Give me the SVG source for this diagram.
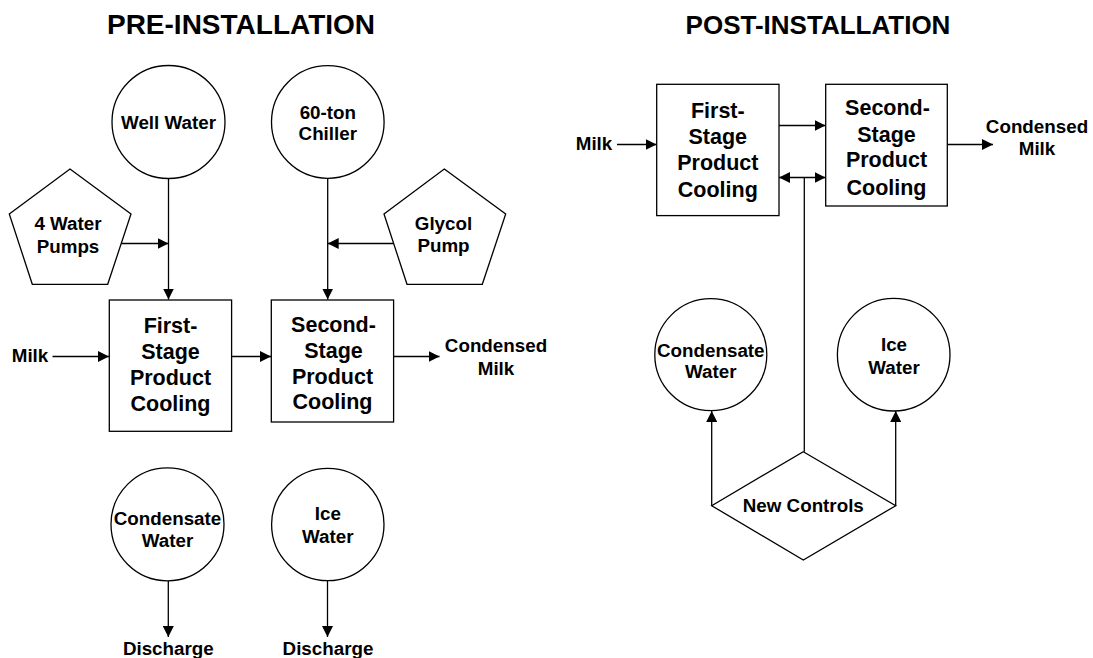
<svg xmlns="http://www.w3.org/2000/svg" width="1093" height="658" viewBox="0 0 1093 658">
<defs>
<style>
.s{fill:#fff;stroke:#000;stroke-width:1.3}
.c{fill:none;stroke:#000;stroke-width:1.3}
text{font-family:"Liberation Sans",Arial,sans-serif;font-weight:bold;fill:#000;text-anchor:middle}
.l{font-size:18.8px}
.b{font-size:21.5px}
.t{font-size:28px}
.t2{font-size:26px}
</style>
<marker id="ah" markerUnits="userSpaceOnUse" markerWidth="12" markerHeight="11" refX="11" refY="5.5" orient="auto-start-reverse">
<path d="M0,0 L11,5.5 L0,11 z" fill="#000"/>
</marker>
</defs>
<rect width="1093" height="658" fill="#fff"/>
<text class="t" x="241" y="33.5">PRE-INSTALLATION</text>
<text class="t2" x="818" y="33.5">POST-INSTALLATION</text>

<g id="connectors">
<line class="c" x1="168.5" y1="178.5" x2="168.5" y2="299.5" marker-end="url(#ah)"/>
<line class="c" x1="121.5" y1="243.5" x2="168.5" y2="243.5" marker-end="url(#ah)"/>
<line class="c" x1="327.7" y1="178.5" x2="327.7" y2="299.5" marker-end="url(#ah)"/>
<line class="c" x1="393.5" y1="243.5" x2="327.7" y2="243.5" marker-end="url(#ah)"/>
<line class="c" x1="52.5" y1="356.5" x2="109" y2="356.5" marker-end="url(#ah)"/>
<line class="c" x1="231.5" y1="356.5" x2="271" y2="356.5" marker-end="url(#ah)"/>
<line class="c" x1="393.5" y1="356.5" x2="439.5" y2="356.5" marker-end="url(#ah)"/>
<line class="c" x1="168.3" y1="581" x2="168.3" y2="637" marker-end="url(#ah)"/>
<line class="c" x1="327.5" y1="581" x2="327.5" y2="637" marker-end="url(#ah)"/>
<line class="c" x1="617" y1="144.5" x2="656.5" y2="144.5" marker-end="url(#ah)"/>
<line class="c" x1="779" y1="125.5" x2="825.5" y2="125.5" marker-end="url(#ah)"/>
<line class="c" x1="779" y1="177.5" x2="825.5" y2="177.5" marker-start="url(#ah)" marker-end="url(#ah)"/>
<line class="c" x1="804.3" y1="177.5" x2="804.3" y2="451.7"/>
<line class="c" x1="947.3" y1="144.5" x2="993" y2="144.5" marker-end="url(#ah)"/>
<line class="c" x1="711.7" y1="505.7" x2="711.7" y2="411" marker-end="url(#ah)"/>
<line class="c" x1="895.7" y1="505.7" x2="895.7" y2="411" marker-end="url(#ah)"/>
</g>

<g id="well-water">
<circle class="s" cx="168.5" cy="122" r="56.5"/>
<text class="l" x="168.5" y="128.5">Well Water</text>
</g>
<g id="chiller">
<circle class="s" cx="327.8" cy="122" r="56.3"/>
<text class="l" x="327.8" y="118.5">60-ton</text>
<text class="l" x="327.8" y="140">Chiller</text>
</g>
<g id="water-pumps">
<polygon class="s" points="70,169 131,214 107.7,284.3 32.3,284.3 9.3,214"/>
<text class="l" x="68" y="230">4 Water</text>
<text class="l" x="68" y="252.5">Pumps</text>
</g>
<g id="glycol-pump">
<polygon class="s" points="444.3,169 505.7,214 482.3,284.3 407,284.3 384,214"/>
<text class="l" x="443.5" y="230">Glycol</text>
<text class="l" x="443.5" y="251.7">Pump</text>
</g>
<g id="milk-pre">
<text class="l" x="30" y="362">Milk</text>
</g>
<g id="first-stage-pre">
<rect class="s" x="109.3" y="300" width="122.3" height="131.3"/>
<text class="b" x="170.5" y="332.7">First-</text>
<text class="b" x="170.5" y="359">Stage</text>
<text class="b" x="170.5" y="385">Product</text>
<text class="b" x="170.5" y="410.7">Cooling</text>
</g>
<g id="second-stage-pre">
<rect class="s" x="271.3" y="300" width="122.3" height="122"/>
<text class="b" x="333.5" y="331.7">Second-</text>
<text class="b" x="333.5" y="358.3">Stage</text>
<text class="b" x="332.5" y="384">Product</text>
<text class="b" x="332.5" y="409.3">Cooling</text>
</g>
<g id="condensed-milk-pre">
<text class="l" x="496" y="352.3">Condensed</text>
<text class="l" x="496" y="375">Milk</text>
</g>
<g id="condensate-pre">
<circle class="s" cx="167.5" cy="524.3" r="56.5"/>
<text class="l" x="167.5" y="525">Condensate</text>
<text class="l" x="167.5" y="547.3">Water</text>
</g>
<g id="ice-water-pre">
<circle class="s" cx="327.8" cy="524.5" r="56.2"/>
<text class="l" x="327.8" y="520">Ice</text>
<text class="l" x="327.8" y="542.7">Water</text>
</g>
<g id="discharge-1">
<text class="l" x="168.3" y="655">Discharge</text>
</g>
<g id="discharge-2">
<text class="l" x="328" y="655">Discharge</text>
</g>

<g id="milk-post">
<text class="l" x="594" y="149.5">Milk</text>
</g>
<g id="first-stage-post">
<rect class="s" x="656.7" y="84.3" width="122.3" height="131.3"/>
<text class="b" x="717.8" y="118.3">First-</text>
<text class="b" x="717.8" y="143.5">Stage</text>
<text class="b" x="717.8" y="170">Product</text>
<text class="b" x="717.8" y="196.7">Cooling</text>
</g>
<g id="second-stage-post">
<rect class="s" x="825.7" y="84.3" width="121.6" height="121.7"/>
<text class="b" x="887.5" y="115">Second-</text>
<text class="b" x="886.5" y="141.7">Stage</text>
<text class="b" x="886.5" y="167.3">Product</text>
<text class="b" x="886.5" y="195">Cooling</text>
</g>
<g id="condensed-milk-post">
<text class="l" x="1037" y="132.7">Condensed</text>
<text class="l" x="1037" y="155">Milk</text>
</g>
<g id="condensate-post">
<circle class="s" cx="710.8" cy="354.7" r="56"/>
<text class="l" x="710.8" y="356.7">Condensate</text>
<text class="l" x="710.8" y="378.3">Water</text>
</g>
<g id="ice-water-post">
<circle class="s" cx="893.7" cy="354.7" r="56.3"/>
<text class="l" x="894" y="351">Ice</text>
<text class="l" x="894" y="374">Water</text>
</g>
<g id="new-controls">
<polygon class="s" points="803.3,451.7 895.7,505.7 803.3,560 711.7,505.7"/>
<text class="l" x="803.3" y="512.3">New Controls</text>
</g>
</svg>
